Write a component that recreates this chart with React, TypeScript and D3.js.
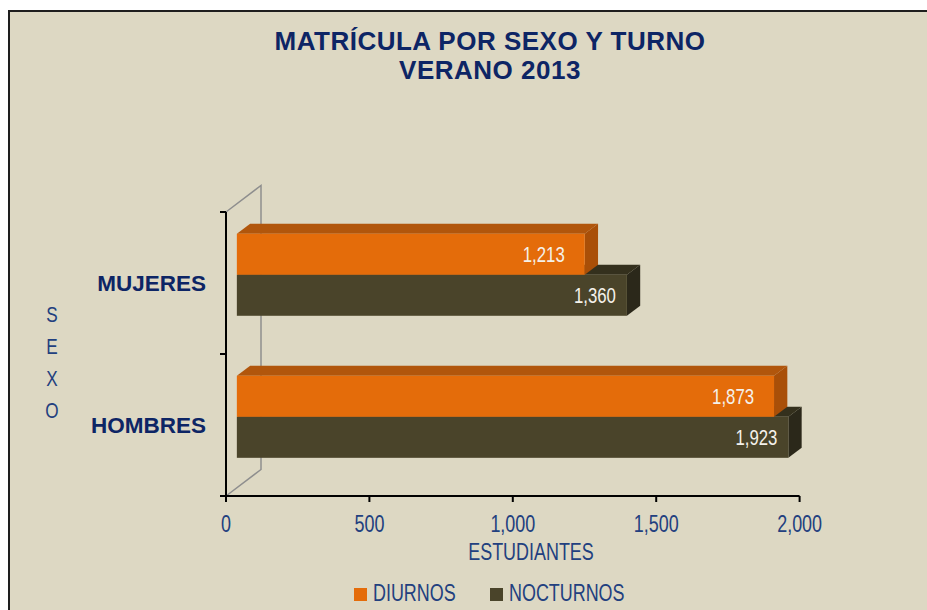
import * as d3 from "d3";

const categories = ["MUJERES", "HOMBRES"];
const series = ["DIURNOS", "NOCTURNOS"];
const diurnos = [1213, 1873];
const nocturnos = [1360, 1923];
const xTicks = [0, 500, 1000, 1500, 2000];
const sideLetters = ["S", "E", "X", "O"];

const W = 927;
const H = 610;
const NAVY = "#0d2565";
const BLUE = "#22407f";
const SANS = "'Liberation Sans', Arial, sans-serif";

// 3D depth of the plot box and where the bars sit inside it
const DX = 35;
const DY = -26.5;
const F0 = 0.31;
const F1 = 0.69;

const faces = [
  { front: "#e46c0a", top: "#b1560c", side: "#a94f08" },
  { front: "#4a442a", top: "#34301d", side: "#2b281a" },
];

// the reference uses a condensed face; squeeze Liberation Sans horizontally
const Narrow = ({ x, y, anchor = "start", size = 23, fill = BLUE, children }: any) => (
  <g transform={`translate(${x},${y}) scale(0.78,1)`}>
    <text x={0} y={0} textAnchor={anchor} fontFamily={SANS} fontSize={size} fill={fill}>
      {children}
    </text>
  </g>
);

export default function App() {
  const x = d3.scaleLinear().domain([0, 2000]).range([226, 799.6]);
  const y = d3
    .scaleBand()
    .domain(categories)
    .range([212, 496])
    .paddingInner(0.4225)
    .paddingOuter(0.211);
  const ySub = d3.scaleBand().domain(series).range([0, y.bandwidth()]);
  const fmt = d3.format(",");

  const values = [diurnos, nocturnos];
  const bars: { cat: string; s: number; v: number }[] = [];
  // paint lower bars first so the upper ones hide their top faces
  [...categories].reverse().forEach((cat) => {
    const ci = categories.indexOf(cat);
    [1, 0].forEach((s) => bars.push({ cat, s, v: values[s][ci] }));
  });

  const bdx = DX * (F1 - F0);
  const bdy = DY * (F1 - F0);
  const x0 = x(0);
  const yTopAxis = 212;
  const yBase = 496;

  return (
    <svg width={W} height={H} style={{ position: "absolute", left: 0, top: 0 }}>
      <rect x={0} y={0} width={W} height={H} fill="#ffffff" />
      <rect x={9} y={11} width={W + 10} height={H + 10} fill="#ddd8c3" stroke="#1e1e1e" strokeWidth={2} />

      <text x={490} y={50} textAnchor="middle" fontFamily={SANS} fontWeight="bold" fontSize={26} letterSpacing={0.5} fill={NAVY}>
        MATRÍCULA POR SEXO Y TURNO
      </text>
      <text x={490} y={79} textAnchor="middle" fontFamily={SANS} fontWeight="bold" fontSize={26} letterSpacing={0.5} fill={NAVY}>
        VERANO 2013
      </text>

      {/* side wall outline */}
      <polyline
        points={`${x0},${yTopAxis} ${x0 + DX},${yTopAxis + DY} ${x0 + DX},${yBase + DY} ${x0},${yBase}`}
        fill="none"
        stroke="#8e8e8e"
        strokeWidth={1.5}
      />

      {bars.map((b) => {
        const f = faces[b.s];
        const xa = x0 + DX * F0;
        const xb = x(b.v) + DX * F0;
        const yt = (y(b.cat) as number) + (ySub(series[b.s]) as number) + DY * F0;
        const h = ySub.bandwidth();
        const yb = yt + h;
        const top = `${xa},${yt} ${xb},${yt} ${xb + bdx},${yt + bdy} ${xa + bdx},${yt + bdy}`;
        const side = `${xb},${yt} ${xb + bdx},${yt + bdy} ${xb + bdx},${yb + bdy} ${xb},${yb}`;
        return (
          <g key={b.cat + b.s}>
            <polygon points={top} fill={f.top} />
            <polygon points={side} fill={f.side} />
            <rect x={xa} y={yt} width={xb - xa} height={h} fill={f.front} />
            <Narrow x={xb - (b.s === 0 ? 20 : 11)} y={yt + h / 2 + 8} anchor="end" size={21.5} fill="#f4f1ea">
              {fmt(b.v)}
            </Narrow>
          </g>
        );
      })}

      {/* axes */}
      <line x1={x0} y1={yTopAxis} x2={x0} y2={yBase} stroke="#000" strokeWidth={2} />
      <line x1={x0 - 6} y1={yBase} x2={x(2000)} y2={yBase} stroke="#000" strokeWidth={2} />
      {[yTopAxis, (y("HOMBRES") as number) - (y.step() * y.paddingInner()) / 2].map((t, i) => (
        <line key={i} x1={x0 - 6} y1={t} x2={x0} y2={t} stroke="#000" strokeWidth={2} />
      ))}
      {xTicks.map((t) => (
        <g key={t}>
          <line x1={x(t)} y1={yBase} x2={x(t)} y2={yBase + 6} stroke="#000" strokeWidth={2} />
          <Narrow x={x(t)} y={532} anchor="middle">
            {fmt(t)}
          </Narrow>
        </g>
      ))}

      {categories.map((c) => (
        <text
          key={c}
          x={206}
          y={(y(c) as number) + y.bandwidth() / 2 + 8}
          textAnchor="end"
          fontFamily={SANS}
          fontWeight="bold"
          fontSize={22.5}
          fill={NAVY}
        >
          {c}
        </text>
      ))}

      <Narrow x={531} y={560} anchor="middle">
        ESTUDIANTES
      </Narrow>

      {sideLetters.map((l, i) => (
        <Narrow key={l} x={52} y={322 + i * 32} anchor="middle" size={22}>
          {l}
        </Narrow>
      ))}

      {series.map((s, i) => {
        const lx = i === 0 ? 354 : 490;
        return (
          <g key={s}>
            <rect x={lx} y={588} width={13} height={13} fill={faces[i].front} />
            <Narrow x={lx + 19} y={601}>
              {s}
            </Narrow>
          </g>
        );
      })}
    </svg>
  );
}
